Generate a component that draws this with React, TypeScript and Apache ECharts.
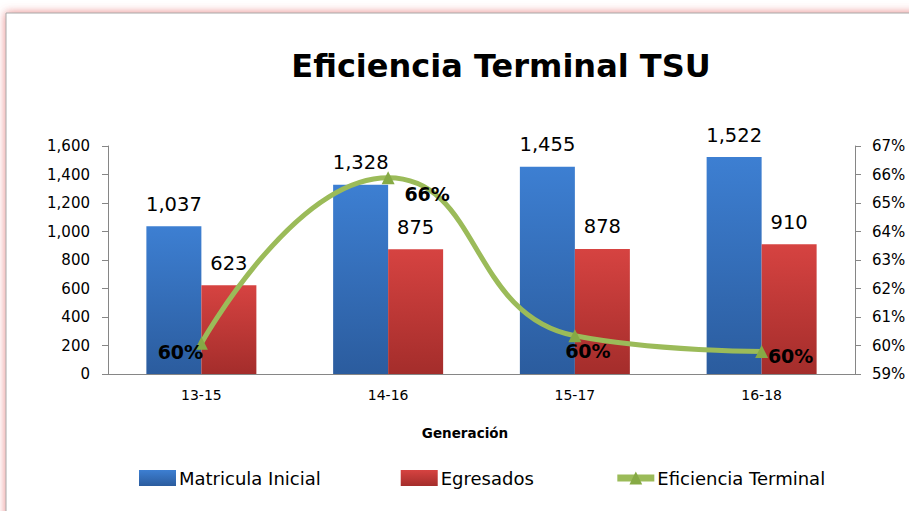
import React, { useEffect, useRef } from "react";
import * as echarts from "echarts";

const categories = ["13-15", "14-16", "15-17", "16-18"];
const matriculaInicial = [1037, 1328, 1455, 1522];
const egresados = [623, 875, 878, 910];
const eficienciaTerminal = [60.08, 65.89, 60.34, 59.79];
const effLabelOffsets: [number, number][] = [[-21, 9], [39, 16], [13, 15], [29, 5]];

const FONT = "DejaVu Sans";

export default function App() {
  const ref = useRef<HTMLDivElement>(null);
  useEffect(() => {
    if (!ref.current) return;
    const chart = echarts.init(ref.current, undefined, { renderer: "svg" });
    const axisGray = "#868686";
    const blueGrad = new echarts.graphic.LinearGradient(0, 0, 0, 1, [
      { offset: 0, color: "#3d7fd2" },
      { offset: 1, color: "#2b5c9e" },
    ]);
    const redGrad = new echarts.graphic.LinearGradient(0, 0, 0, 1, [
      { offset: 0, color: "#d64341" },
      { offset: 1, color: "#a42d2b" },
    ]);
    chart.setOption({
      animation: false,
      backgroundColor: "#fff",
      graphic: [
        {
          type: "rect",
          z: -10,
          shape: { x: 6, y: 13, width: 1000, height: 1000 },
          style: {
            fill: "#fff",
            stroke: "#a8a8a8",
            lineWidth: 1,
            shadowBlur: 10,
            shadowColor: "rgba(225,90,90,0.75)",
          },
        },
        {
          type: "text",
          x: 501,
          y: 66,
          style: {
            text: "Eficiencia Terminal TSU",
            font: `bold 32px "${FONT}"`,
            fill: "#000",
            align: "center",
            verticalAlign: "middle",
          },
        },
        {
          type: "text",
          x: 465,
          y: 433,
          style: {
            text: "Generación",
            font: `bold 13.5px "${FONT}"`,
            fill: "#000",
            align: "center",
            verticalAlign: "middle",
          },
        },
      ],
      grid: { left: 108, right: 54, top: 146, bottom: 137, containLabel: false },
      legend: {
        left: 134,
        top: 464,
        itemWidth: 37,
        itemHeight: 16,
        itemGap: 80,
        textStyle: { fontFamily: FONT, fontSize: 18, color: "#000", padding: [0, 0, 0, -2] },
        data: [
          { name: "Matricula Inicial", icon: "rect" },
          { name: "Egresados", icon: "rect" },
          { name: "Eficiencia Terminal", lineStyle: { width: 7, color: "#9bbb59" } },
        ],
      },
      xAxis: {
        type: "category",
        data: categories,
        boundaryGap: true,
        axisLine: { lineStyle: { color: axisGray } },
        axisTick: { show: false },
        axisLabel: { color: "#000", fontFamily: FONT, fontSize: 14, margin: 14 },
      },
      yAxis: [
        {
          type: "value",
          min: 0,
          max: 1600,
          interval: 200,
          splitLine: { show: false },
          axisLine: { show: true, lineStyle: { color: axisGray } },
          axisTick: { show: true, length: 6, lineStyle: { color: axisGray } },
          axisLabel: {
            color: "#000",
            fontFamily: FONT,
            fontSize: 15,
            margin: 18,
            formatter: (v: number) => v.toLocaleString("en-US"),
          },
        },
        {
          type: "value",
          min: 59,
          max: 67,
          interval: 1,
          splitLine: { show: false },
          axisLine: { show: true, lineStyle: { color: axisGray } },
          axisTick: { show: true, length: 6, lineStyle: { color: axisGray } },
          axisLabel: { color: "#000", fontFamily: FONT, fontSize: 15, margin: 17, formatter: "{value}%" },
        },
      ],
      series: [
        {
          name: "Matricula Inicial",
          type: "bar",
          data: matriculaInicial,
          barWidth: 55,
          barGap: "0%",
          itemStyle: { color: blueGrad },
          label: {
            show: true,
            position: "top",
            distance: 12,
            fontFamily: FONT,
            fontSize: 19.5,
            color: "#000",
            formatter: (p: any) => Number(p.value).toLocaleString("en-US"),
          },
        },
        {
          name: "Egresados",
          type: "bar",
          data: egresados,
          barWidth: 55,
          barGap: "0%",
          itemStyle: { color: redGrad },
          label: {
            show: true,
            position: "top",
            distance: 12,
            fontFamily: FONT,
            fontSize: 19.5,
            color: "#000",
            formatter: (p: any) => Number(p.value).toLocaleString("en-US"),
          },
        },
        {
          name: "Eficiencia Terminal",
          type: "line",
          yAxisIndex: 1,
          smooth: 0.5,
          data: eficienciaTerminal.map((v, i) => ({
            value: v,
            label: { offset: effLabelOffsets[i] },
          })),
          lineStyle: { color: "#9bbb59", width: 5 },
          itemStyle: { color: "#86aa45" },
          symbol: "triangle",
          symbolSize: 13,
          label: {
            show: true,
            position: "inside",
            fontFamily: FONT,
            fontWeight: "bold",
            fontSize: 19,
            color: "#000",
            formatter: (p: any) => Math.round(Number(p.value)) + "%",
          },
          z: 5,
        },
      ],
    });
    return () => chart.dispose();
  }, []);
  return (
    <div
      ref={ref}
      style={{ position: "fixed", left: 0, top: 0, width: 909, height: 511 }}
    />
  );
}
